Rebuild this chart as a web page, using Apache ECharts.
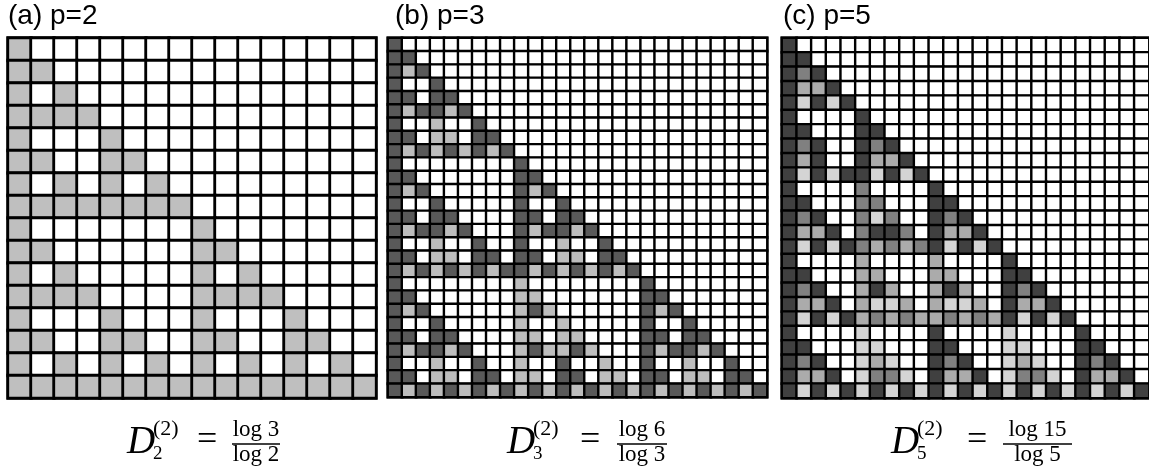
<!DOCTYPE html>
<html>
<head>
<meta charset="utf-8">
<script src="https://cdn.jsdelivr.net/npm/echarts@6/dist/echarts.min.js"></script>
<style>
html,body{margin:0;padding:0;background:#fff;}
#chart{width:1149px;height:473px;}
</style>
</head>
<body>
<div id="chart"></div>
<script>
// Pascal's triangle residues (row n, columns k = 0..n)
var p2Rows = [
"1","11","101","1111","10001","110011","1010101","11111111",
"100000001","1100000011","10100000101","111100001111",
"1000100010001","11001100110011","101010101010101","1111111111111111"
];
var p3Rows = [
"1","11","121","1001","11011","121121","1002001","11022011","121212121",
"1000000001","11000000011","121000000121","1001000001001","11011000011011",
"121121000121121","1002001001002001","11022011011022011","121212121121212121",
"1000000002000000001","11000000022000000011","121000000212000000121",
"1001000002002000001001","11011000022022000011011","121121000212212000121121",
"1002001002001002001002001","11022011022011022011022011","121212121212121212121212121"
];
var p5Rows = [
"1","11","121","1331","14141",
"100001","1100011","12100121","131001331","1414114141",
"10000200001","110002200011","1210024200121","13310211201331","141412323214141",
"1000030000300001","11000330003300011","121003130031300121","1331034430344301331","14141323233232314141",
"100004000010000400001","1100044000110004400011","12100434001210043400121","133104224013310422401331","1414141414141414141414141"
];
var panelTitles = ["(a) p=2", "(b) p=3", "(c) p=5"];
var panelSizes = [16, 27, 25];
var numerators = ["log 3", "log 6", "log 15"];
var denominators = ["log 2", "log 3", "log 5"];
var subscripts = ["2", "3", "5"];

var p2Colors = ['#ffffff', '#bfbfbf'];
var p3Colors = ['#ffffff', '#595959', '#bdbdbd'];
var p5Colors = ['#ffffff', '#404040', '#808080', '#ababab', '#d4d4d4'];

var panels = [
  {rows: p2Rows, colors: p2Colors, n: panelSizes[0], left: 8, top: 38, width: 368, height: 360, bw: 2.8},
  {rows: p3Rows, colors: p3Colors, n: panelSizes[1], left: 388, top: 38, width: 379, height: 359, bw: 2.4},
  {rows: p5Rows, colors: p5Colors, n: panelSizes[2], left: 782, top: 38, width: 370, height: 360, bw: 2.4}
];

function cats(n){ var a=[]; for(var i=0;i<n;i++) a.push(String(i)); return a; }

var grids=[], xAxes=[], yAxes=[], series=[];
panels.forEach(function(p, i){
  grids.push({left:p.left, top:p.top, width:p.width, height:p.height, show:true, borderColor:'#111', borderWidth:3, backgroundColor:'#fff', containLabel:false});
  xAxes.push({type:'category', gridIndex:i, data:cats(p.n), show:false});
  yAxes.push({type:'category', gridIndex:i, data:cats(p.n), show:false, inverse:true});
  var data=[];
  for (var r=0;r<p.n;r++){
    var row = p.rows[r];
    for (var c=0;c<p.n;c++){
      var v = c < row.length ? +row.charAt(c) : 0;
      data.push({value:[c, r, v], itemStyle:{color:p.colors[v]}});
    }
  }
  series.push({
    type:'heatmap', xAxisIndex:i, yAxisIndex:i, data:data,
    itemStyle:{borderColor:'#000', borderWidth:p.bw},
    emphasis:{disabled:true}, silent:true, progressive:0
  });
});

var SERIF = '"Liberation Serif", "DejaVu Serif", serif';
var SANS = '"Liberation Sans", Arial, Helvetica, sans-serif';
var graphics = [];
var titleX = [8, 395, 783];
panelTitles.forEach(function(t, i){
  graphics.push({type:'text', x:titleX[i], y:16, style:{text:t, font:'28px '+SANS, fill:'#000', verticalAlign:'middle', align:'left'}});
});

var fx = [
  {d:127, eq:197, f0:232, f1:280},
  {d:507, eq:580, f0:617, f1:667},
  {d:891, eq:967, f0:1003, f1:1072}
];
fx.forEach(function(f, i){
  graphics.push({type:'text', x:f.d, y:443, style:{text:'D', font:'italic 39px '+SERIF, fill:'#000', verticalAlign:'middle', align:'left'}});
  graphics.push({type:'text', x:f.d+26, y:429, style:{text:'(2)', font:'22px '+SERIF, fill:'#000', verticalAlign:'middle', align:'left'}});
  graphics.push({type:'text', x:f.d+26, y:454, style:{text:subscripts[i], font:'19px '+SERIF, fill:'#000', verticalAlign:'middle', align:'left'}});
  graphics.push({type:'text', x:f.eq, y:441, style:{text:'=', font:'36px '+SERIF, fill:'#000', verticalAlign:'middle', align:'left'}});
  var cx = (f.f0+f.f1)/2;
  graphics.push({type:'text', x:cx, y:430, style:{text:numerators[i], font:'23px '+SERIF, fill:'#000', verticalAlign:'middle', align:'center'}});
  graphics.push({type:'line', shape:{x1:f.f0, y1:444, x2:f.f1, y2:444}, style:{stroke:'#000', lineWidth:1.3}});
  graphics.push({type:'text', x:cx, y:455, style:{text:denominators[i], font:'23px '+SERIF, fill:'#000', verticalAlign:'middle', align:'center'}});
});

var chart = echarts.init(document.getElementById('chart'), null, {renderer:'canvas'});
chart.setOption({
  animation:false,
  backgroundColor:'#fff',
  grid:grids, xAxis:xAxes, yAxis:yAxes, series:series,
  graphic:graphics
});
</script>
</body>
</html>
